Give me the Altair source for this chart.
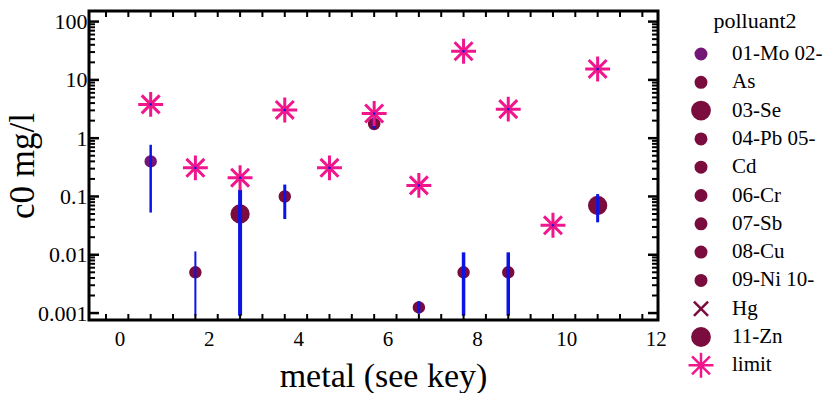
import altair as alt
import pandas as pd

# ---------------- data ----------------
categories = ["01-Mo 02-", "As", "03-Se", "04-Pb 05-", "Cd", "06-Cr", "07-Sb",
              "08-Cu", "09-Ni 10-", "Hg", "11-Zn", "limit"]
metal_x = [0.7, 1.7, 2.7, 3.7, 4.7, 5.7, 6.7, 7.7, 8.7, 9.7, 10.7]
c0 = [0.4, 0.005, 0.05, 0.1, None, 1.75, 0.00125, 0.005, 0.005, None, 0.07]
c0_low = [0.053, 0.0009, 0.0009, 0.041, None, 1.45, 0.00098, 0.0009, 0.0009, None, 0.036]
c0_high = [0.77, 0.0114, 0.13, 0.16, None, 2.6, 0.0016, 0.011, 0.011, None, 0.11]
limit = [3.8, 0.31, 0.21, 3.05, 0.31, 2.65, 0.155, 31, 3.15, 0.032, 15.4]

x_tick_labels = [0, 2, 4, 6, 8, 10, 12]
y_tick_labels = [0.001, 0.01, 0.1, 1, 10, 100]
x_minor_ticks = [-0.3, 0.2, 0.7, 1.2, 1.7, 2.2, 2.7, 3.2, 3.7, 4.2, 4.7, 5.2, 5.7,
                 6.2, 6.7, 7.2, 7.7, 8.2, 8.7, 9.2, 9.7, 10.2, 10.7, 11.2, 11.7]
y_minor_ticks = [m * 10.0 ** e for e in range(-3, 3) for m in range(2, 10)
                 if m * 10.0 ** e < 150]

# ---------------- styles ----------------
FONT = "Liberation Serif"
PURPLE = "#731677"
MAROON = "#7a0c3e"
PINK = "#f0168c"
BLUE = "#0a14e6"
STAR = "M-1,0L1,0M0,-1L0,1M-0.72,-0.72L0.72,0.72M-0.72,0.72L0.72,-0.72"
XSHAPE = "M-1,-1L1,1M-1,1L1,-1"

cat_colors = [PURPLE] + [MAROON] * 10 + [PINK]
cat_shapes = ["circle"] * 9 + [XSHAPE, "circle", STAR]
cat_sizes = [110, 110, 300, 110, 110, 110, 110, 110, 110, 200, 300, 620]

W, H = 569, 309

pts = pd.DataFrame({
    "metal": metal_x, "c0": c0, "lo": c0_low, "hi": c0_high,
    "polluant2": categories[:11],
}).dropna()
lim = pd.DataFrame({"metal": metal_x, "c0": limit, "polluant2": ["limit"] * len(limit)})
xt = pd.DataFrame({"metal": x_minor_ticks})
ytmin = pd.DataFrame({"c0": y_minor_ticks})
ytmaj = pd.DataFrame({"c0": y_tick_labels})

bar_cats = list(pts["polluant2"])
bar_widths = [2.5, 2, 4, 3, 3, 3, 3.5, 3.5, 3]

xs = alt.Scale(domain=[-0.68, 12.05], nice=False, zero=False)
ys = alt.Scale(type="log", domain=[0.00076, 152], nice=False)

xaxis = alt.Axis(values=x_tick_labels, ticks=False, domain=False, grid=False,
                 labelFont=FONT, labelFontSize=21, labelColor="black", labelPadding=8,
                 titleFont=FONT, titleFontSize=34, titleFontWeight="normal",
                 titleColor="black", titlePadding=10, titleX=294)
yaxis = alt.Axis(values=y_tick_labels, ticks=False, domain=False, grid=False,
                 format="~g", labelFont=FONT, labelFontSize=22, labelColor="black",
                 labelPadding=2, titleFont=FONT, titleFontSize=35,
                 titleFontWeight="normal", titleColor="black", titlePadding=-3)


def X(field="metal"):
    return alt.X(f"{field}:Q", scale=xs, axis=xaxis, title="metal (see key)")


def Y(field="c0"):
    return alt.Y(f"{field}:Q", scale=ys, axis=yaxis, title="c0 mg/l")


cscale = alt.Scale(domain=categories, range=cat_colors)
sym_enc = dict(
    fill=alt.Fill("polluant2:N", scale=cscale, title="polluant2"),
    stroke=alt.Stroke("polluant2:N", scale=cscale, title="polluant2"),
    shape=alt.Shape("polluant2:N", scale=alt.Scale(domain=categories, range=cat_shapes),
                    title="polluant2"),
    size=alt.Size("polluant2:N",
                  scale=alt.Scale(type="ordinal", domain=categories, range=cat_sizes),
                  title="polluant2"),
)

circles = alt.Chart(pts).mark_point(opacity=1, strokeWidth=2).encode(
    x=X(), y=Y(), **sym_enc)

bars = alt.Chart(pts).mark_rule(color=BLUE).encode(
    x=X(), y=Y("lo"), y2="hi:Q",
    strokeWidth=alt.StrokeWidth("polluant2:N",
                                scale=alt.Scale(type="ordinal", domain=bar_cats,
                                                range=bar_widths),
                                legend=None))

stars = alt.Chart(lim).mark_point(opacity=1, strokeWidth=3).encode(
    x=X(), y=Y(), **sym_enc)

centers = alt.Chart(lim).mark_square(color=BLUE, size=5, opacity=1).encode(x=X(), y=Y())

tick_bottom = alt.Chart(xt).mark_rule(color="black", strokeWidth=2).encode(
    x=X(), y=alt.value(H), y2=alt.value(H - 6))
tick_top = alt.Chart(xt).mark_rule(color="black", strokeWidth=2).encode(
    x=X(), y=alt.value(0), y2=alt.value(6))
ytick_l_min = alt.Chart(ytmin).mark_rule(color="black", strokeWidth=2).encode(
    y=Y(), x=alt.value(0), x2=alt.value(6))
ytick_l_maj = alt.Chart(ytmaj).mark_rule(color="black", strokeWidth=2.5).encode(
    y=Y(), x=alt.value(0), x2=alt.value(10))
ytick_r_min = alt.Chart(ytmin).mark_rule(color="black", strokeWidth=2).encode(
    y=Y(), x=alt.value(W), x2=alt.value(W - 6))
ytick_r_maj = alt.Chart(ytmaj).mark_rule(color="black", strokeWidth=2.5).encode(
    y=Y(), x=alt.value(W), x2=alt.value(W - 10))

chart = alt.layer(
    circles, bars, stars, centers,
    tick_bottom, tick_top, ytick_l_min, ytick_l_maj, ytick_r_min, ytick_r_maj,
).properties(
    width=W, height=H,
    padding={"left": 5, "top": 10, "right": 0, "bottom": 0},
    background="white",
).configure_view(
    stroke="black", strokeWidth=3,
).configure_legend(
    titleFont=FONT, titleFontSize=22, titleFontWeight="normal", titleColor="black",
    labelFont=FONT, labelFontSize=21, labelColor="black", labelLimit=300,
    labelOffset=17, symbolStrokeWidth=2.5, clipHeight=26, rowPadding=2.3,
    offset=29, padding=0, titleAnchor="middle", titlePadding=8,
)

chart.save("out.html", embed_options={"renderer": "svg", "actions": False})
